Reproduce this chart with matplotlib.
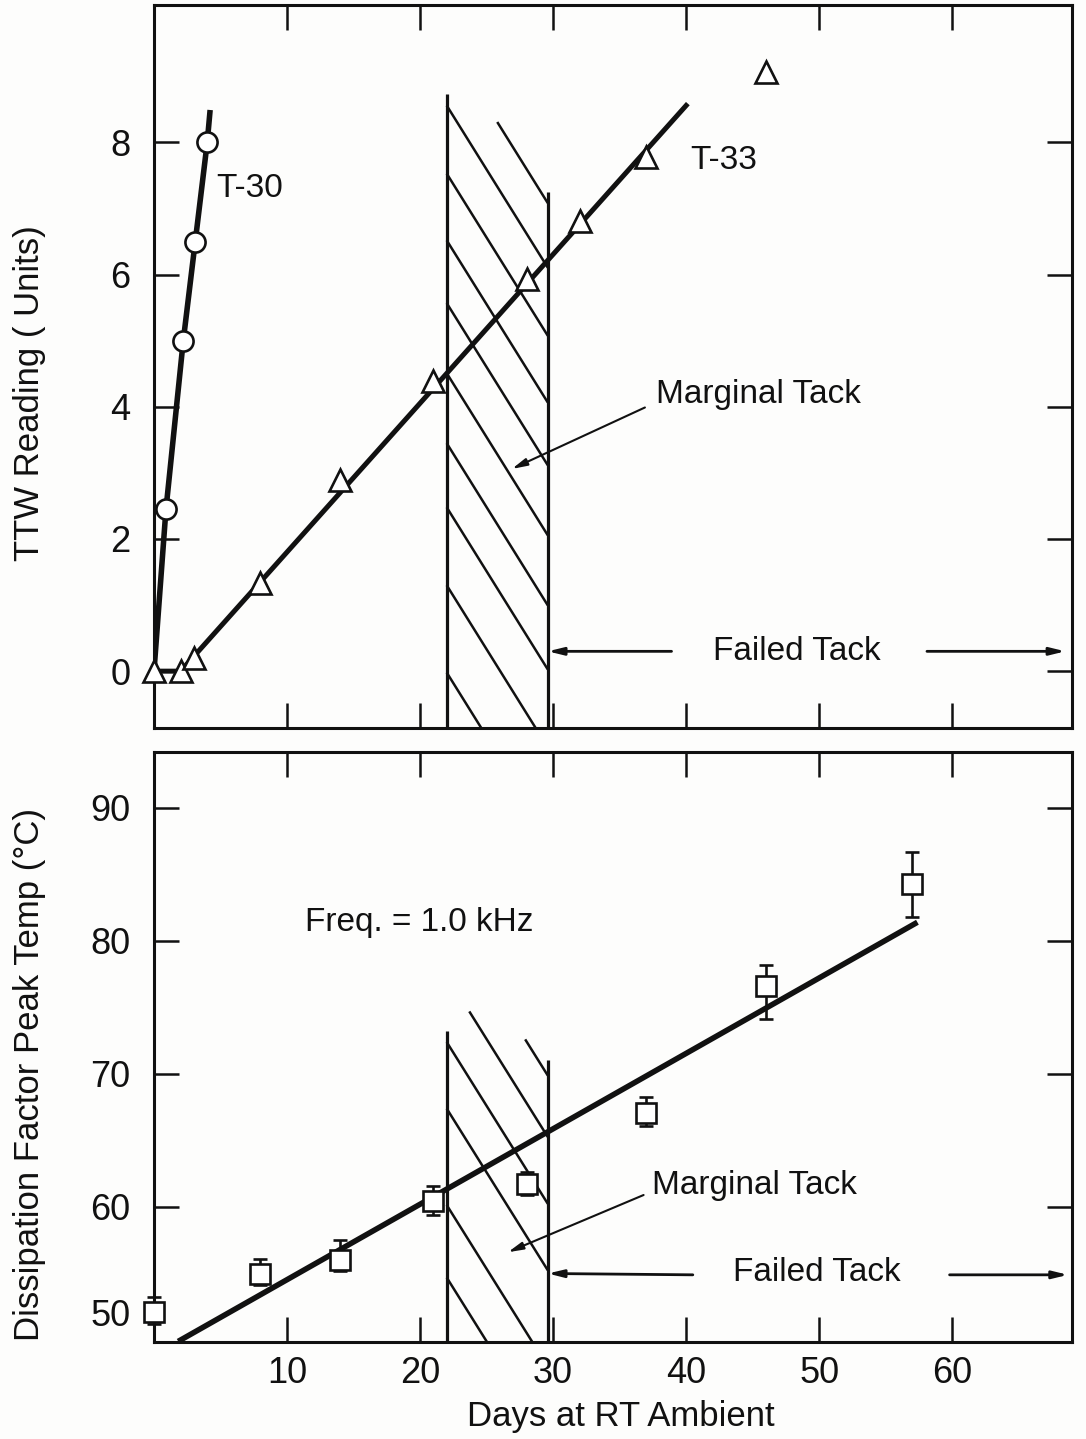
"""TTW reading and dissipation-factor peak temperature versus days at RT
ambient, with the marginal-tack band hatched and the failed-tack zone marked.

Output: out.png
"""
import matplotlib
matplotlib.use("Agg")
import matplotlib.pyplot as plt

INK = "#111111"
TEXT_FONT = "Liberation Sans"
NUM_FONT = ["Liberation Sans Narrow", "Liberation Sans"]

# --- top panel: TTW reading (units) -----------------------------------------
T30_DAYS = [0.9, 2.2, 3.1, 4.0]
T30_TTW = [2.45, 5.0, 6.5, 8.0]
T30_FIT_DAYS = [0.0, 0.9, 2.2, 3.1, 4.0, 4.2]
T30_FIT_TTW = [0.0, 2.45, 5.0, 6.5, 8.0, 8.45]

T33_DAYS = [0, 2, 3, 8, 14, 21, 28, 32, 37, 46]
T33_TTW = [0.0, 0.0, 0.2, 1.33, 2.89, 4.39, 5.93, 6.81, 7.78, 9.06]
T33_FIT_DAYS = [0, 2, 40]
T33_FIT_TTW = [0.0, 0.0, 8.56]

# --- bottom panel: dissipation factor peak temperature (deg C) --------------
DF_DAYS = [0, 8, 14, 21, 28, 37, 46, 57]
DF_TEMP = [52.1, 55.0, 56.0, 60.45, 61.7, 67.1, 76.6, 84.3]
DF_LOW = [51.2, 54.1, 55.2, 59.4, 60.9, 66.1, 74.1, 81.8]
DF_HIGH = [53.2, 56.1, 57.5, 61.6, 62.6, 68.3, 78.2, 86.7]
DF_FIT_DAYS = [2.0, 57.2]
DF_FIT_TEMP = [50.0, 81.3]

# marginal-tack band (days)
MARGINAL_START = 22.0
MARGINAL_END = 29.6

X_TICKS = [10, 20, 30, 40, 50, 60]
TTW_TICKS = [0, 2, 4, 6, 8]
DF_TICKS = [60, 70, 80, 90]


def hatch(ax, starts, slope, x_right, y_floor):
    """Hand-ruled hatch strokes: each runs down-right until the band edge or floor."""
    for x0, y0 in starts:
        x1 = x_right
        y1 = y0 + slope * (x1 - x0)
        if y1 < y_floor:
            x1 = x0 + (y_floor - y0) / slope
            y1 = y_floor
        ax.plot([x0, x1], [y0, y1], color=INK, lw=1.8, zorder=1,
                solid_capstyle="butt")


def style_axes(ax, yticks):
    ax.set_xlim(0, 69.0)
    ax.set_xticks(X_TICKS)
    ax.set_yticks(yticks)
    ax.tick_params(direction="in", length=18, width=1.8, top=True,
                   right=True, colors=INK, labelsize=26, pad=17)
    ax.tick_params(axis="x", pad=10)
    for lab in ax.get_xticklabels() + ax.get_yticklabels():
        lab.set_family(NUM_FONT)
    for s in ax.spines.values():
        s.set_linewidth(2.2)
        s.set_color(INK)


def arrow(ax, tail, head, lw=1.5):
    ax.annotate("", xy=head, xytext=tail,
                arrowprops=dict(arrowstyle="-|>,head_length=0.9,head_width=0.22",
                                color=INK, lw=lw, shrinkA=0, shrinkB=0))


def main() -> None:
    fig = plt.figure(figsize=(10.86, 14.39), dpi=100)
    fig.patch.set_facecolor("#fdfdfc")
    txt = dict(family=TEXT_FONT, fontsize=24, color=INK)

    # ---------------- top panel ----------------
    ax = fig.add_axes([0.1418, 0.4941, 0.8453, 0.5024])
    ax.set_facecolor("none")
    style_axes(ax, TTW_TICKS)
    ax.set_ylim(-0.86, 10.08)
    ax.tick_params(axis="x", labelbottom=False)

    ax.vlines(MARGINAL_START, -0.86, 8.74, color=INK, lw=2.3, zorder=1)
    ax.vlines(MARGINAL_END, -0.86, 7.25, color=INK, lw=2.3, zorder=1)
    hatch(ax, [(22, 8.56), (22, 7.53), (22, 6.52), (22, 5.57), (22, 4.51),
               (22, 3.45), (22, 2.48), (22, 1.30), (22, -0.02), (25.8, 8.31)],
          slope=-0.323, x_right=MARGINAL_END, y_floor=-0.86)

    ax.plot(T30_FIT_DAYS, T30_FIT_TTW, color=INK, lw=4.0, zorder=2)
    ax.plot(T33_FIT_DAYS, T33_FIT_TTW, color=INK, lw=3.6, zorder=2)
    ax.plot(T30_DAYS, T30_TTW, "o", ms=14.5, mfc="white", mec=INK, mew=1.9,
            zorder=3, clip_on=False)
    ax.plot(T33_DAYS, T33_TTW, "^", ms=15.5, mfc="white", mec=INK, mew=1.9,
            zorder=3, clip_on=False)

    ax.text(4.7, 7.3, "T-30", va="center", ha="left", **txt)
    ax.text(40.3, 7.73, "T-33", va="center", ha="left", **txt)
    ax.text(37.7, 4.18, "Marginal Tack", va="center", ha="left", **txt)
    arrow(ax, (36.9, 3.99), (26.9, 3.06))
    ax.text(48.3, 0.3, "Failed Tack", va="center", ha="center", **txt)
    arrow(ax, (38.9, 0.3), (MARGINAL_END, 0.3), lw=2.0)
    arrow(ax, (58.1, 0.3), (68.5, 0.3), lw=2.0)
    ax.set_ylabel("TTW Reading ( Units)", **dict(txt, fontsize=25))
    ax.yaxis.set_label_coords(-0.118, 0.463)

    # ---------------- bottom panel ----------------
    bx = fig.add_axes([0.1418, 0.0674, 0.8453, 0.41])
    bx.set_facecolor("none")
    style_axes(bx, DF_TICKS)
    bx.set_ylim(49.85, 94.2)
    # the 50 label sits a little above its tick so it clears the day axis
    bx.annotate("50", xy=(0, 50), xycoords=("axes fraction", "data"),
                xytext=(-17, 17), textcoords="offset points", ha="right",
                va="center", family=NUM_FONT, fontsize=26, color=INK)

    bx.vlines(MARGINAL_START, 49.85, 73.2, color=INK, lw=2.3, zorder=1)
    bx.vlines(MARGINAL_END, 49.85, 71.05, color=INK, lw=2.3, zorder=1)
    hatch(bx, [(22, 72.4), (22, 67.4), (22, 60.15), (22, 54.7),
               (23.7, 74.7), (27.9, 72.6)],
          slope=-1.6, x_right=MARGINAL_END, y_floor=49.85)

    bx.plot(DF_FIT_DAYS, DF_FIT_TEMP, color=INK, lw=4.0, zorder=2)
    lo = [t - l for t, l in zip(DF_TEMP, DF_LOW)]
    hi = [h - t for t, h in zip(DF_TEMP, DF_HIGH)]
    bx.errorbar(DF_DAYS, DF_TEMP, yerr=[lo, hi], fmt="s", ms=14, mfc="white",
                mec=INK, mew=1.9, ecolor=INK, elinewidth=1.9, capsize=5,
                capthick=2.0, zorder=3, clip_on=False)

    bx.text(11.35, 81.4, "Freq. = 1.0 kHz", va="center", ha="left", **txt)
    bx.text(37.4, 61.6, "Marginal Tack", va="center", ha="left", **txt)
    arrow(bx, (36.8, 60.9), (26.6, 56.6))
    bx.text(49.85, 55.1, "Failed Tack", va="center", ha="center", **txt)
    arrow(bx, (40.5, 54.9), (MARGINAL_END, 55.0), lw=2.0)
    arrow(bx, (59.8, 54.9), (68.7, 54.9), lw=2.0)

    bx.set_ylabel("Dissipation Factor Peak Temp (°C)", **dict(txt, fontsize=25))
    bx.yaxis.set_label_coords(-0.118, 0.453)
    bx.set_xlabel("Days at RT Ambient", **dict(txt, fontsize=25))
    bx.xaxis.set_label_coords(0.508, -0.098)

    fig.savefig("out.png", dpi=100, facecolor=fig.get_facecolor())
    plt.close(fig)


if __name__ == "__main__":
    main()
